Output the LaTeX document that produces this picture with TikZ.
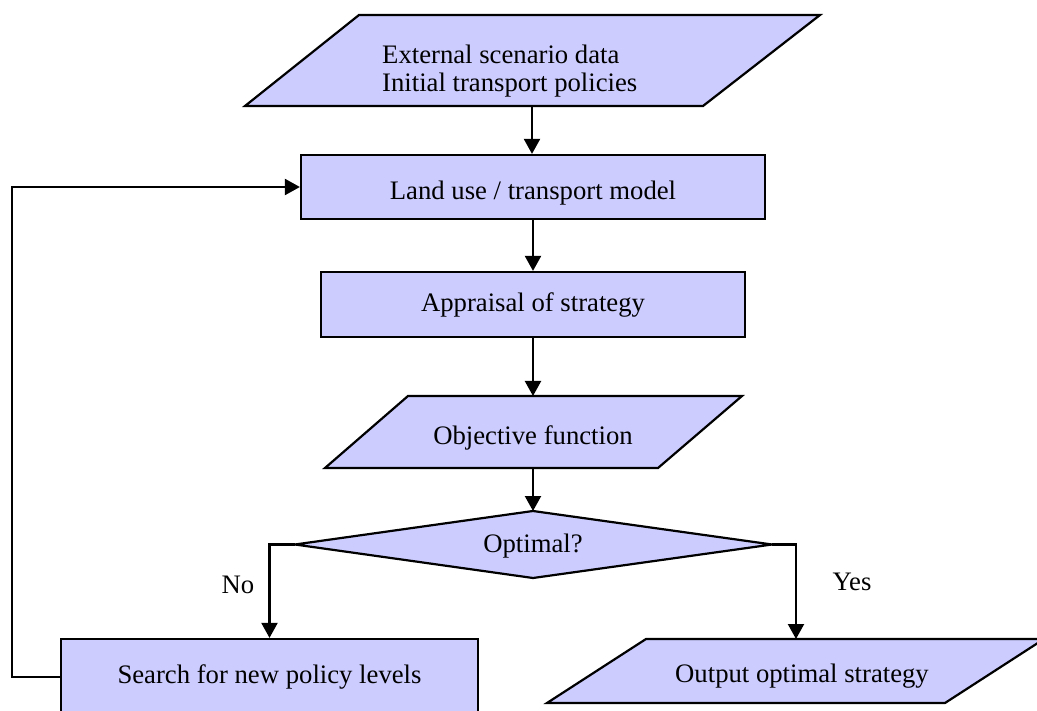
\documentclass[tikz,border=0pt]{standalone}
\usepackage{fontspec}
\setmainfont{Liberation Serif}
\usetikzlibrary{arrows.meta,calc}
\definecolor{boxfill}{RGB}{204,204,255}
\tikzset{
  shapeline/.style={draw=black, fill=boxfill, line width=2.2pt, line join=miter},
  procbox/.style={shapeline, rectangle, inner sep=0pt, font=\fontsize{26.7}{28}\selectfont},
  txt/.style={inner sep=0pt, font=\fontsize{26.7}{28}\selectfont},
  conn/.style={line width=2.2pt, -{Triangle[length=15pt,width=16pt]}},
}
\begin{document}
\begin{tikzpicture}[x=1pt,y=-1pt]
\useasboundingbox (0,0) rectangle (1037,711);
\clip (0,0) rectangle (1037,711);
% input parallelogram
\filldraw[shapeline] (359,15) -- (820,15) -- (703,106) -- (245,106) -- cycle;
\node[txt, anchor=west, align=left] (inp) at (382,71.5) {External scenario data\\Initial transport policies};
\coordinate (inpS) at (532,106);
% land use / transport model
\node[procbox, minimum width=464pt, minimum height=64pt, text height=31pt, text depth=6pt] (lu) at (533,187) {Land use / transport model};
% appraisal
\node[procbox, minimum width=424pt, minimum height=65pt] (ap) at (533,304.5) {Appraisal of strategy};
% objective function
\filldraw[shapeline] (408,396) -- (742,396) -- (658,468) -- (325,468) -- cycle;
\coordinate (objN) at (533,396);
\coordinate (objS) at (533,468);
\node[txt] (obj) at (533,438) {Objective function};
% decision
\coordinate (dL) at (295,544.5);
\coordinate (dT) at (533,511);
\coordinate (dR) at (772,544.5);
\coordinate (dB) at (533,578);
\filldraw[shapeline] (dL) -- (dT) -- (dR) -- (dB) -- cycle;
\node[txt] (opt) at (533,546) {Optimal?};
% search
\node[procbox, minimum width=417pt, minimum height=76pt] (sr) at (269.5,677) {Search for new policy levels};
% output
\filldraw[shapeline] (646,639) -- (1044,639) -- (945,703) -- (547,703) -- cycle;
\coordinate (outN) at (796,639);
\node[txt] (out) at (802,676) {Output optimal strategy};
% labels
\node[txt] (no) at (238,585) {No};
\node[txt] (yes) at (852,582) {Yes};
% connectors
\draw[conn] (inpS) -- (inpS |- lu.north);
\draw[conn] (lu.south) -- (ap.north);
\draw[conn] (ap.south) -- (objN);
\draw[conn] (objS) -- (dT);
\draw[conn] (dL) -| (sr.north);
\draw[conn] (dR) -| (outN);
\draw[conn] (sr.west) -- ++(-48,0) |- (lu.west);
\end{tikzpicture}
\end{document}
